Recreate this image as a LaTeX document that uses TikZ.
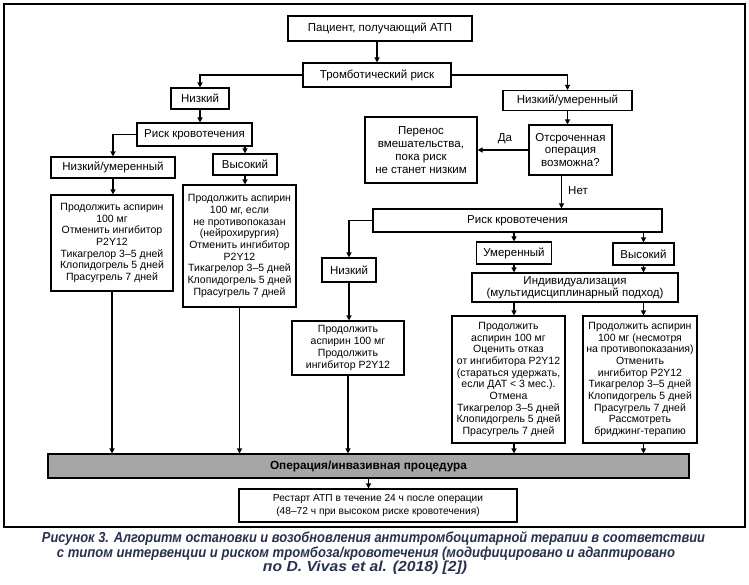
\documentclass[tikz,border=0pt]{standalone}
\usepackage{fontspec}
\setmainfont{Liberation Sans}
\usepackage{graphicx}
\usetikzlibrary{arrows.meta}
\definecolor{capcol}{HTML}{27314D}
\definecolor{opgray}{HTML}{A6A6A6}
\begin{document}
\begin{tikzpicture}[x=1pt,y=-1pt,
 box/.style={draw, line width=1.1pt, inner sep=0pt, align=center, font=\fontsize{11.5}{13}\selectfont},
 txtbox/.style={box, font=\fontsize{10.5}{11.7}\selectfont},
 arr/.style={line width=1.1pt, -{Triangle[length=5pt,width=5pt]}},
 ln/.style={line width=1.1pt},
 lbl/.style={inner sep=0pt, font=\fontsize{11.5}{13}\selectfont},
 captxt/.style={inner sep=0pt, text=capcol, font=\fontsize{14.5}{16}\selectfont\bfseries\itshape}
]
\useasboundingbox (0,0) rectangle (749,584);
\draw[line width=1.3pt] (4,4) rectangle (745,527);

% top
\node[box, minimum width=184pt, minimum height=25pt] (p) at (380,28.5) {Пациент, получающий АТП};
\node[box, minimum width=148pt, minimum height=24pt] (tr) at (377,75) {Тромботический риск};

% left branch
\node[box, minimum width=58pt, minimum height=21pt] (lowL) at (200,98.5) {Низкий};
\node[box, minimum width=115pt, minimum height=23pt] (bl) at (194.5,134.5) {Риск кровотечения};
\node[box, minimum width=124pt, minimum height=21pt] (lm) at (113,167.5) {Низкий/умеренный};
\node[box, minimum width=64pt, minimum height=21pt] (hi) at (245,164.5) {Высокий};
\node[txtbox, minimum width=122pt, minimum height=96pt] (A) at (112,243) {Продолжить аспирин\\100 мг\\Отменить ингибитор\\P2Y12\\Тикагрелор 3–5 дней\\Клопидогрель 5 дней\\Прасугрель 7 дней};
\node[txtbox, minimum width=113pt, minimum height=122pt] (B) at (239.5,246) {Продолжить аспирин\\100 мг, если\\не противопоказан\\(нейрохирургия)\\Отменить ингибитор\\P2Y12\\Тикагрелор 3–5 дней\\Клопидогрель 5 дней\\Прасугрель 7 дней};

% right branch
\node[box, minimum width=129pt, minimum height=20pt] (lowR) at (567.5,100.5) {Низкий/умеренный};
\node[box, minimum width=83pt, minimum height=50pt, font=\fontsize{11.5}{12.5}\selectfont] (q) at (570.5,150) {Отсроченная\\операция\\возможна?};
\node[box, minimum width=112pt, minimum height=66pt, font=\fontsize{11.5}{13.2}\selectfont] (delay) at (421,150) {Перенос\\вмешательства,\\пока риск\\не станет низким};
\node[box, minimum width=289pt, minimum height=23pt] (br) at (517.5,220.5) {Риск кровотечения};
\node[box, minimum width=54pt, minimum height=24pt] (low2) at (349,270) {Низкий};
\node[txtbox, minimum width=112pt, minimum height=54pt] (M) at (348,348) {Продолжить\\аспирин 100 мг\\Продолжить\\ингибитор P2Y12};
\node[box, minimum width=75pt, minimum height=22pt] (mod) at (514,253) {Умеренный};
\node[box, minimum width=61pt, minimum height=22pt] (hi2) at (643.5,254) {Высокий};
\node[box, minimum width=206pt, minimum height=29pt, font=\fontsize{11.5}{12}\selectfont] (ind) at (575,287.5) {Индивидуализация\\(мультидисциплинарный подход)};
\node[txtbox, minimum width=113pt, minimum height=127pt] (C) at (508.5,379.5) {Продолжить\\аспирин 100 мг\\Оценить отказ\\от ингибитора P2Y12\\(стараться удержать,\\если ДАТ < 3 мес.).\\Отмена\\Тикагрелор 3–5 дней\\Клопидогрель 5 дней\\Прасугрель 7 дней};
\node[txtbox, minimum width=114pt, minimum height=127pt] (D) at (640,379.5) {Продолжить аспирин\\100 мг (несмотря\\на противопоказания)\\Отменить\\ингибитор P2Y12\\Тикагрелор 3–5 дней\\Клопидогрель 5 дней\\Прасугрель 7 дней\\Рассмотреть\\бриджинг-терапию};

% bottom
\node[box, fill=opgray, minimum width=641pt, minimum height=24pt, font=\fontsize{11.8}{13}\selectfont\bfseries] (op) at (368.5,466) {Операция/инвазивная процедура};
\node[box, minimum width=278pt, minimum height=33pt, font=\fontsize{10.2}{12.2}\selectfont] (rs) at (378,505.5) {Рестарт АТП в течение 24 ч после операции\\(48–72 ч при высоком риске кровотечения)};

% labels
\node[lbl] (da) at (505,139) {Да};
\node[lbl] (net) at (578,191) {Нет};

% connectors
\draw[arr] (p.south -| tr.north) -- (tr.north);
\draw[arr] (tr.west) -| (lowL.north);
\draw[arr] (tr.east) -| (lowR.north);
\draw[arr] (lowL.south) -- (lowL.south |- bl.north);
\draw[arr] (bl.west) -| (lm.north);
\draw[arr] (hi.north |- bl.south) -- (hi.north);
\draw[arr] (lm.south) -- (lm.south |- A.north);
\draw[arr] (hi.south) -- (hi.south |- B.north);
\draw[arr] (A.south) -- (A.south |- op.north);
\draw[arr] (B.south) -- (B.south |- op.north);

\draw[arr] (lowR.south) -- (lowR.south |- q.north);
\draw[arr] (q.west) -- (delay.east);
\draw[arr] ([xshift=-9pt]q.south) -- ([xshift=-9pt]q.south |- br.north);
\draw[arr] (br.west) -| (low2.north);
\draw[arr] (low2.south) -- (low2.south |- M.north);
\draw[arr] (M.south) -- (M.south |- op.north);
\draw[arr] (mod.north |- br.south) -- (mod.north);
\draw[arr] (hi2.north |- br.south) -- (hi2.north);
\draw[arr] (mod.south) -- (mod.south |- ind.north);
\draw[arr] (hi2.south) -- (hi2.south |- ind.north);
\draw[arr] (mod.south |- ind.south) -- (mod.south |- C.north);
\draw[arr] (hi2.south |- ind.south) -- (hi2.south |- D.north);
\draw[arr] (mod.south |- C.south) -- (mod.south |- op.north);
\draw[arr] (hi2.south |- D.south) -- (hi2.south |- op.north);
\draw[arr] (op.south) -- (op.south |- rs.north);

% caption
\node[captxt] (cap1) at (373.5,539) {\resizebox{663pt}{\height}{Рисунок 3. Алгоритм остановки и возобновления антитромбоцитарной терапии в соответствии}};
\node[captxt] (cap2) at (366,553.5) {\resizebox{618pt}{\height}{с типом интервенции и риском тромбоза/кровотечения (модифицировано и адаптировано}};
\node[captxt] (cap3) at (365,568) {\resizebox{204pt}{\height}{по D. Vivas et al. (2018) [2])}};
\end{tikzpicture}
\end{document}
